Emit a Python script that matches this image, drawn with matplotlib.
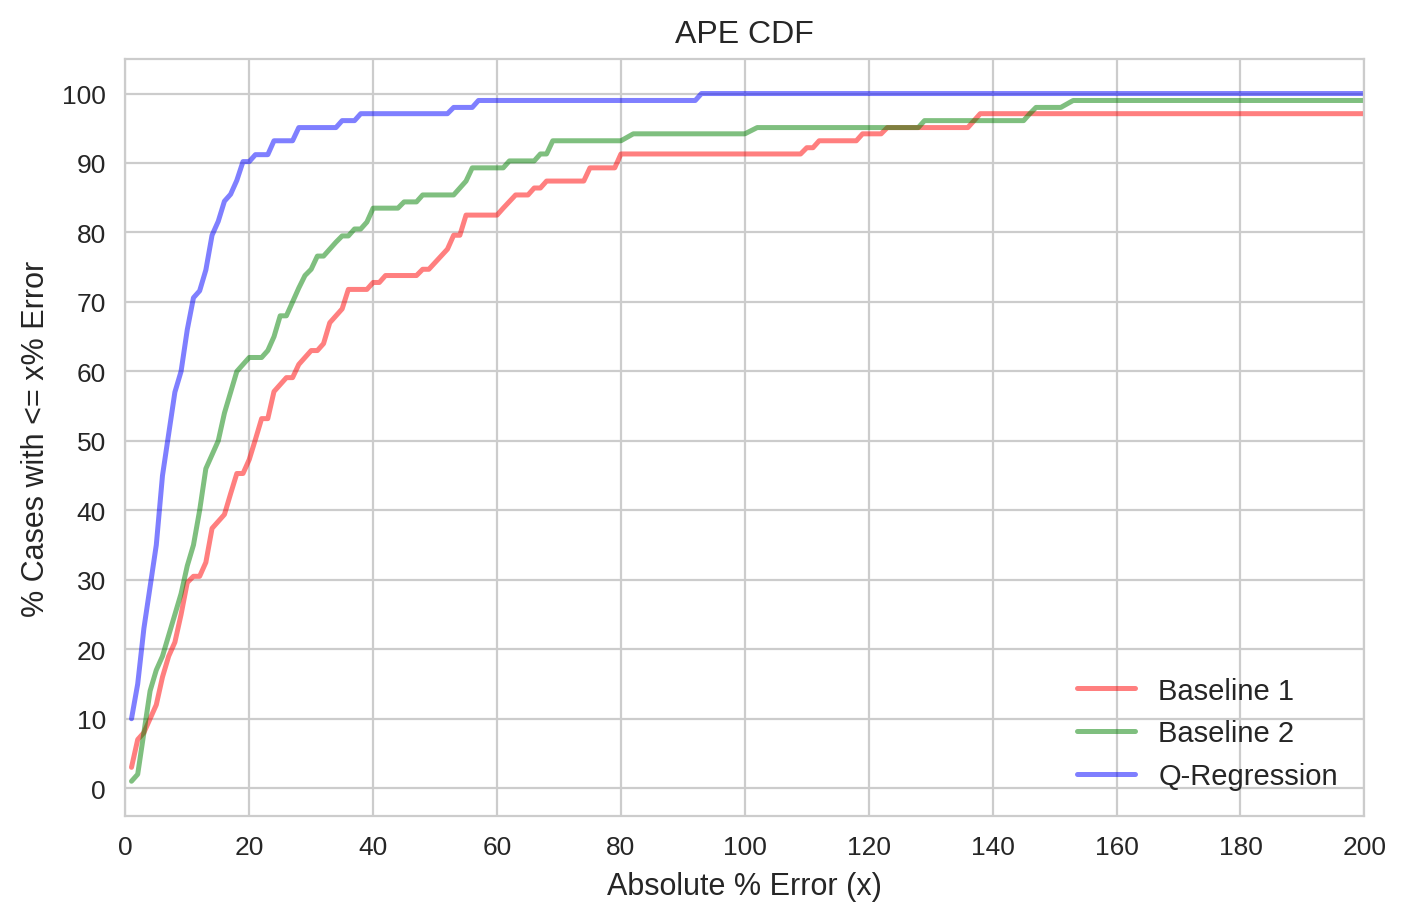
import matplotlib
matplotlib.use("Agg")
import matplotlib.pyplot as plt
import seaborn as sns

sns.set_style("whitegrid")
plt.rcParams["font.family"] = "Liberation Sans"

q_x = [1,2,3,4,5,6,7,8,9,10,11,12,13,14,15,16,17,18,19,20,21,23,24,27,28,34,35,37,38,52,53,56,57,92,93,200]
q_y = [10,15,23,29,35,45,51,57,60,66,70.6,71.6,74.6,79.6,81.6,84.5,85.5,87.5,90.2,90.2,91.2,91.2,93.2,93.2,95.1,95.1,96.1,96.1,97.1,97.1,98,98,99,99,100,100]

b2_x = [1,2,3,4,5,6,7,8,9,10,11,12,13,14,15,16,17,18,19,20,22,23,24,25,26,27,28,29,30,31,32,33,34,35,36,37,38,39,40,44,45,47,48,53,54,55,56,61,62,66,67,68,69,80,82,100,102,128,129,145,146,147,151,153,200]
b2_y = [1,2,8,14,17,19,22,25,28,32,35,40,46,48,50,54,57,60,61,62,62,63,65,68,68,70,72,73.8,74.7,76.6,76.6,77.6,78.6,79.5,79.5,80.5,80.5,81.5,83.5,83.5,84.4,84.4,85.4,85.4,86.4,87.4,89.3,89.3,90.3,90.3,91.3,91.3,93.2,93.2,94.2,94.2,95.1,95.1,96.1,96.1,97.1,98,98,99,99]

b1_x = [1,2,3,4,5,6,7,8,9,10,11,12,13,14,15,16,17,18,19,20,21,22,23,24,25,26,27,28,29,30,31,32,33,34,35,36,39,40,41,42,47,48,49,52,53,54,55,60,61,63,65,66,67,68,74,75,79,80,109,110,111,112,118,119,122,123,136,137,138,200]
b1_y = [3,7,8,10,12,16,19,21,25,29.6,30.5,30.5,32.5,37.4,38.4,39.4,42.4,45.3,45.3,47.3,50.2,53.2,53.2,57.1,58.1,59.1,59.1,61,62,63,63,64,67,68,69,71.8,71.8,72.8,72.8,73.8,73.8,74.7,74.7,77.6,79.6,79.6,82.5,82.5,83.5,85.4,85.4,86.4,86.4,87.4,87.4,89.3,89.3,91.3,91.3,92.2,92.2,93.2,93.2,94.2,94.2,95.1,95.1,96.1,97.1,97.1]

fig, ax = plt.subplots(figsize=(7.04, 4.6), dpi=200)
ax.plot(b1_x, b1_y, color="red", alpha=0.5, lw=1.8, label="Baseline 1")
ax.plot(b2_x, b2_y, color="green", alpha=0.5, lw=1.8, label="Baseline 2")
ax.plot(q_x, q_y, color="blue", alpha=0.5, lw=1.8, label="Q-Regression")
ax.set_xlim(0, 200)
ax.set_ylim(-4, 105)
ax.set_xticks(range(0, 201, 20))
ax.set_yticks(range(0, 101, 10))
ax.tick_params(labelsize=9.5)
ax.set_title("APE CDF", fontsize=11.5)
ax.set_xlabel("Absolute % Error (x)", fontsize=11)
ax.set_ylabel("% Cases with <= x% Error", fontsize=11)
ax.legend(loc="lower right", frameon=False, fontsize=10.5)
fig.subplots_adjust(left=0.089, right=0.969, bottom=0.112, top=0.935)
fig.savefig("out.png")
